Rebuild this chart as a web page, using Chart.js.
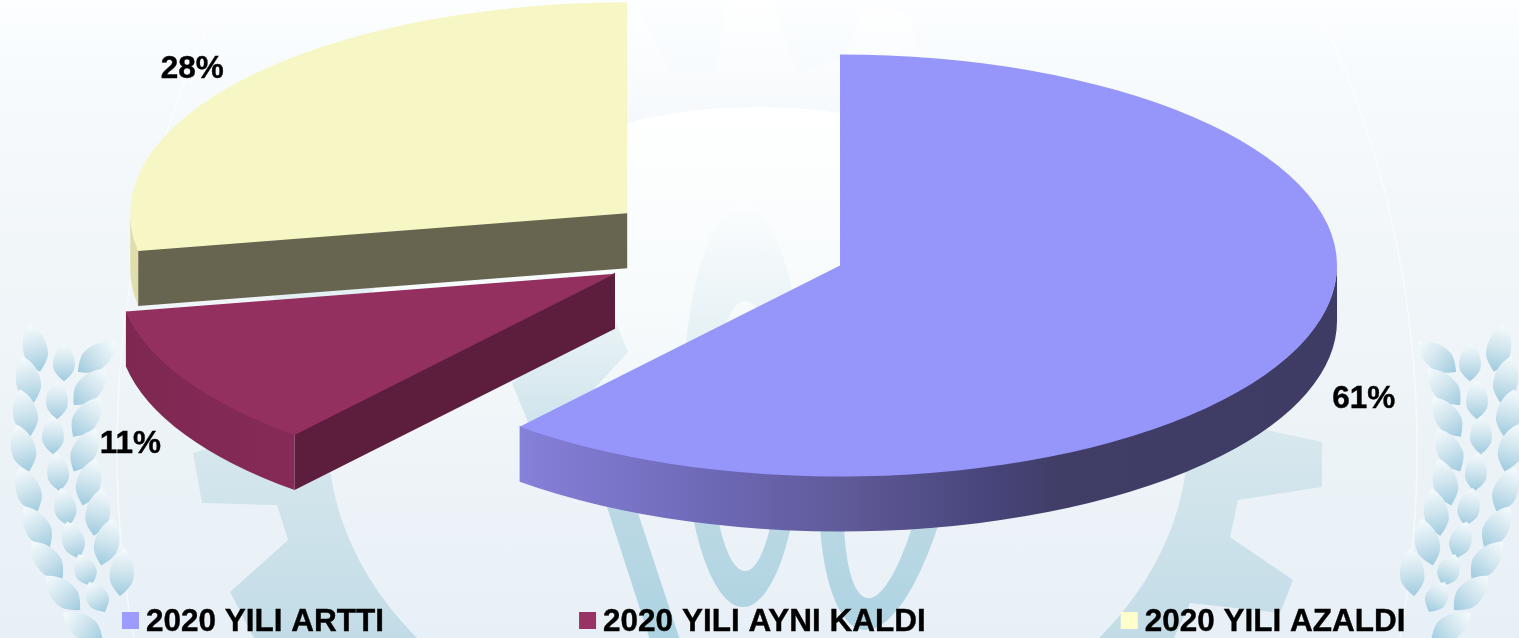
<!DOCTYPE html>
<html lang="tr">
<head>
<meta charset="utf-8">
<title>2020 YILI</title>
<script src="https://cdn.jsdelivr.net/npm/chart.js@4"></script>
<style>
html,body{margin:0;padding:0;width:1519px;height:638px;overflow:hidden;background:#eef4f8}
#bg{position:absolute;left:0;top:0}
#wrap{position:absolute;left:0;top:0;width:1519px;height:638px}
</style>
</head>
<body>
<svg id="bg" width="1519" height="638" viewBox="0 0 1519 638" xmlns="http://www.w3.org/2000/svg">
  <defs>
    <linearGradient id="page" gradientUnits="userSpaceOnUse" x1="0" y1="0" x2="0" y2="638">
      <stop offset="0" stop-color="#fcfeff"/><stop offset=".15" stop-color="#f6fafd"/>
      <stop offset=".4" stop-color="#f1f6f9"/><stop offset=".7" stop-color="#ecf3f7"/>
      <stop offset="1" stop-color="#e8f0f7"/>
    </linearGradient>
    <linearGradient id="gear" gradientUnits="userSpaceOnUse" x1="0" y1="0" x2="0" y2="638">
      <stop offset="0" stop-color="#ffffff"/><stop offset=".16" stop-color="#f7fafc"/>
      <stop offset=".7" stop-color="#d6e7ed"/><stop offset="1" stop-color="#c2dce7"/>
    </linearGradient>
    <linearGradient id="hole" gradientUnits="userSpaceOnUse" x1="0" y1="107" x2="0" y2="638">
      <stop offset="0" stop-color="#ffffff"/><stop offset=".36" stop-color="#f7fbfc"/>
      <stop offset=".65" stop-color="#eef4f8"/><stop offset="1" stop-color="#e8f0f7"/>
    </linearGradient>
    <linearGradient id="digit" gradientUnits="userSpaceOnUse" x1="0" y1="205" x2="0" y2="638">
      <stop offset="0" stop-color="#fbfdfe"/><stop offset=".3" stop-color="#e6f1f5"/>
      <stop offset=".68" stop-color="#bcd9e4"/><stop offset="1" stop-color="#aed3e2"/>
    </linearGradient>
    <linearGradient id="grain" x1="0" y1="0" x2="0" y2="1">
      <stop offset="0" stop-color="#f6fbfd"/><stop offset=".5" stop-color="#d0e5ee"/><stop offset="1" stop-color="#9fcbdf"/>
    </linearGradient>
    <path id="leaf" fill="url(#grain)" transform="scale(1.15 1.1)" d="M0,-22 C9,-14 12,-2 10,8 C8,14 3,19 0,22 C-3,19 -8,14 -10,8 C-12,-2 -9,-14 0,-22Z"/>
    <g id="wreath">
      <use href="#leaf" transform="translate(35 348) rotate(-12)"/>
      <use href="#leaf" transform="translate(28 380) rotate(-12)"/>
      <use href="#leaf" transform="translate(25 413) rotate(-12)"/>
      <use href="#leaf" transform="translate(23 448) rotate(-15)"/>
      <use href="#leaf" transform="translate(28 490) rotate(-22)"/>
      <use href="#leaf" transform="translate(37 527) rotate(-32)"/>
      <use href="#leaf" transform="translate(47 560) rotate(-40)"/>
      <use href="#leaf" transform="translate(63 593) rotate(-45)"/>
      <use href="#leaf" transform="translate(83 627) rotate(-55)"/>
      <use href="#leaf" transform="translate(64 362) scale(.9,.8)"/>
      <use href="#leaf" transform="translate(57 400) scale(.9,.8)"/>
      <use href="#leaf" transform="translate(53 435) scale(.9,.8)"/>
      <use href="#leaf" transform="translate(58 472) rotate(-5) scale(.9,.8)"/>
      <use href="#leaf" transform="translate(65 507) rotate(-12) scale(.9,.8)"/>
      <use href="#leaf" transform="translate(73 540) rotate(-18) scale(.9,.8)"/>
      <use href="#leaf" transform="translate(85 570) rotate(-22) scale(.9,.7)"/>
      <use href="#leaf" transform="translate(97 597) rotate(-28) scale(.9,.7)"/>
      <use href="#leaf" transform="translate(97 357) rotate(52)"/>
      <use href="#leaf" transform="translate(90 387) rotate(42)"/>
      <use href="#leaf" transform="translate(87 417) rotate(35)"/>
      <use href="#leaf" transform="translate(85 450) rotate(28)"/>
      <use href="#leaf" transform="translate(89 482) rotate(15)"/>
      <use href="#leaf" transform="translate(98 512) rotate(10)"/>
      <use href="#leaf" transform="translate(107 542) rotate(14)"/>
      <use href="#leaf" transform="translate(122 572) rotate(5)"/>
    </g>
  </defs>
  <rect width="1519" height="638" fill="url(#page)"/>
  <ellipse cx="767" cy="450" rx="650" ry="830" fill="none" stroke="#ffffff" stroke-opacity=".55" stroke-width="1.5"/>
  <use href="#wreath"/>
  <use href="#wreath" transform="translate(1534 0) scale(-1 1)"/>
  <path fill="url(#gear)" d="M638,7 L672,75 L715,72 L728,0 L773,0 L797,72 L843,60 L865,5 L908,13 L925,70 L1200,150 L1267,430 L1322,442 L1322,487 L1238,500 L1230,537 L1293,580 L1280,613 L1190,603 L1173,640 L255,640 L230,592 L288,540 L277,505 L202,503 L193,453 L250,435 L300,150 L590,70 Z"/>
  <ellipse cx="758" cy="437" rx="430" ry="330" fill="url(#hole)"/>
  <path fill="url(#digit)" d="M528,422 L512,383 L600,310 L615,320 L628,352 L595,388 L603,440 L637,510 L680,640 L650,640 L607,507 L580,450 Z"/>
  <path fill="url(#digit)" fill-rule="evenodd" d="M683,406 a60,201 0 1,0 120,0 a60,201 0 1,0 -120,0 Z M711,436 a34,135 0 1,0 68,0 a34,135 0 1,0 -68,0 Z"/>
  <g transform="rotate(8 895 400)">
    <path fill="url(#digit)" fill-rule="evenodd" d="M825,400 a70,232 0 1,0 140,0 a70,232 0 1,0 -140,0 Z M851,400 a44,200 0 1,0 88,0 a44,200 0 1,0 -88,0 Z"/>
  </g>
</svg>
<div id="wrap"><canvas id="c" width="1519" height="638"></canvas></div>
<script>
const categories = ['2020 YILI ARTTI', '2020 YILI AYNI KALDI', '2020 YILI AZALDI'];
const shares = [61.15, 11, 27.85];
const topColors = ['#9696FA', '#943060', '#F7F7C6'];
const legendColors = ['#9C9CFF', '#993366', '#FFFFCC'];

const RX = 497, RY = 211, DEPTH = 55, EXPLODE = 124.7, PIVOT_X = 722.9, PIVOT_Y = 247.3;
const FONT = 'bold 31.5px "Liberation Sans", Arial, sans-serif';

function wallStyle(ctx, i, kind) {
  if (kind === 'cut') return ['#403E66', '#5C1E3C', '#67654F'][i];
  if (i === 1) {
    const g = ctx.createLinearGradient(124, 0, 297, 0);
    g.addColorStop(0, '#7E2851'); g.addColorStop(1, '#862A58');
    return g;
  }
  if (i === 2) return '#E0DFAC';
  const g = ctx.createLinearGradient(520, 0, 1337, 0);
  g.addColorStop(0, '#8681D9');
  g.addColorStop(0.22, '#6F6AB8');
  g.addColorStop(0.40, '#5F5A98');
  g.addColorStop(0.58, '#47447A');
  g.addColorStop(0.66, '#403E66');
  g.addColorStop(1, '#3E3C64');
  return g;
}

function geom(arc) {
  const mid = (arc.startAngle + arc.endAngle) / 2;
  return {
    mid,
    cx: PIVOT_X + EXPLODE * Math.cos(mid),
    cy: PIVOT_Y + EXPLODE * (RY / RX) * Math.sin(mid)
  };
}

function boldText(ctx, text, x, y) {
  ctx.fillText(text, x, y);
  ctx.strokeText(text, x, y);
}

const pie3d = {
  id: 'pie3d',
  beforeDatasetsDraw(chart) {
    const ctx = chart.ctx;
    const arcs = chart.getDatasetMeta(0).data;
    [2, 1, 0].forEach(i => {
      const arc = arcs[i];
      const g = geom(arc);
      const a0 = arc.startAngle, a1 = arc.endAngle;
      const px = a => g.cx + RX * Math.cos(a), py = a => g.cy + RY * Math.sin(a);
      const UP = 1; // walls tuck 1px under the top face so no seam shows

      ctx.save();
      // the only cut face turned towards the viewer is the one at the start angle
      ctx.fillStyle = wallStyle(ctx, i, 'cut');
      ctx.beginPath();
      ctx.moveTo(g.cx, g.cy - UP);
      ctx.lineTo(px(a0), py(a0) - UP);
      ctx.lineTo(px(a0), py(a0) + DEPTH);
      ctx.lineTo(g.cx, g.cy + DEPTH);
      ctx.closePath();
      ctx.fill();
      const from = Math.max(a0, 0), to = Math.min(a1, Math.PI);
      if (to > from) {
        ctx.fillStyle = wallStyle(ctx, i, 'rim');
        ctx.beginPath();
        ctx.ellipse(g.cx, g.cy - UP, RX, RY, 0, from, to, false);
        ctx.lineTo(px(to), py(to) + DEPTH);
        ctx.ellipse(g.cx, g.cy + DEPTH, RX, RY, 0, to, from, true);
        ctx.closePath();
        ctx.fill();
      }
      ctx.restore();

      // top face: the library's own arc, squashed into the tilted plane
      ctx.save();
      ctx.translate(g.cx, g.cy);
      ctx.scale(RX / arc.outerRadius, RY / arc.outerRadius);
      ctx.translate(-arc.x, -arc.y);
      arc.draw(ctx);
      ctx.restore();
    });

    // percent labels
    const labelNudgeX = [0, -2, -7];
    ctx.save();
    ctx.font = FONT;
    ctx.fillStyle = '#000';
    ctx.strokeStyle = '#000';
    ctx.lineWidth = 0.4;
    ctx.textAlign = 'center';
    ctx.textBaseline = 'middle';
    arcs.forEach((arc, i) => {
      const g = geom(arc);
      const s = Math.sin(g.mid);
      const x = g.cx + 1.122 * RX * Math.cos(g.mid) + labelNudgeX[i];
      const y = g.cy + 1.075 * RY * s + (s > 0 ? DEPTH : 0) + 1.5;
      boldText(ctx, Math.round(shares[i]) + '%', x, y);
    });
    ctx.restore();

    // legend row
    ctx.save();
    ctx.font = FONT;
    ctx.strokeStyle = '#000';
    ctx.lineWidth = 0.4;
    ctx.textAlign = 'left';
    ctx.textBaseline = 'middle';
    let x = 122;
    categories.forEach((label, i) => {
      ctx.fillStyle = legendColors[i];
      ctx.fillRect(x, 612, 17, 17);
      ctx.fillStyle = '#000';
      boldText(ctx, label, x + 24, 622);
      x += 24 + ctx.measureText(label).width + 195;
    });
    ctx.restore();
    return false;
  }
};

new Chart(document.getElementById('c'), {
  type: 'pie',
  data: {
    labels: categories,
    datasets: [{ data: shares, backgroundColor: topColors, borderWidth: 0, hoverOffset: 0 }]
  },
  options: {
    responsive: false,
    animation: false,
    events: [],
    layout: { padding: 0 },
    plugins: { legend: { display: false }, tooltip: { enabled: false }, title: { display: false } }
  },
  plugins: [pie3d]
});
</script>
</body>
</html>
